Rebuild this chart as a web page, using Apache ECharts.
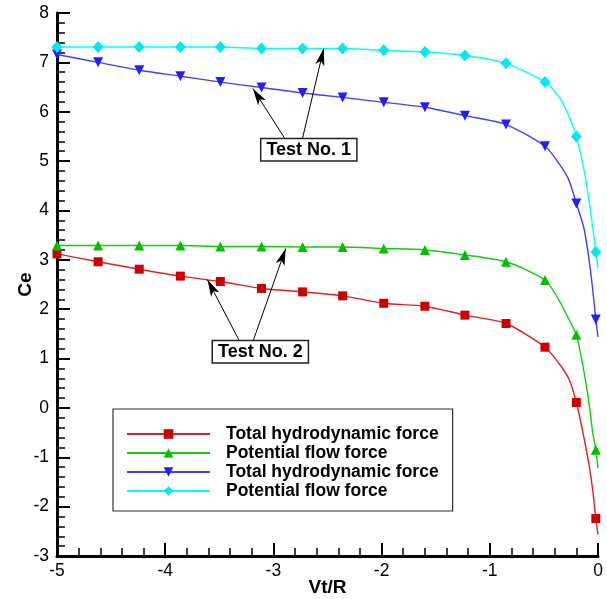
<!DOCTYPE html>
<html>
<head>
<meta charset="utf-8">
<script src="https://cdn.jsdelivr.net/npm/echarts@6.0.0/dist/echarts.min.js"></script>
<style>
  html, body { margin: 0; padding: 0; background: #fff; }
  #chart { width: 607px; height: 599px; }
</style>
</head>
<body>
<div id="chart"></div>
<script>
// marker positions along Vt/R (shared by all curves)
const xVals = [-5, -4.62, -4.24, -3.86, -3.49, -3.11, -2.73, -2.36, -1.98, -1.60, -1.23, -0.85, -0.49, -0.2, -0.02]
// extra curve points (no marker) read off the steep part near Vt/R = 0
const xExtra = [-0.36, -0.27, -0.13, -0.08, -0.05, 0]

// Test No. 2
const totalForce2 = [3.12, 2.96, 2.81, 2.67, 2.56, 2.42, 2.35, 2.27, 2.12, 2.06, 1.88, 1.71, 1.23, 0.11, -2.24]
const totalForce2Extra = [0.90, 0.59, -0.60, -1.19, -1.65, -2.57]
const potentialForce2 = [3.29, 3.29, 3.29, 3.29, 3.27, 3.27, 3.26, 3.26, 3.23, 3.20, 3.10, 2.96, 2.59, 1.48, -0.85]
const potentialForce2Extra = [2.18, 1.80, 0.74, 0.05, -0.48, -1.22]

// Test No. 1
const totalForce1 = [7.16, 7.0, 6.84, 6.72, 6.60, 6.49, 6.38, 6.29, 6.19, 6.09, 5.92, 5.74, 5.30, 4.14, 1.79]
const totalForce1Extra = [4.95, 4.62, 3.64, 2.96, 2.42, 1.44]
const potentialForce1 = [7.31, 7.31, 7.31, 7.31, 7.31, 7.28, 7.28, 7.28, 7.245, 7.21, 7.14, 6.98, 6.60, 5.50, 3.16]
const potentialForce1Extra = [6.30, 5.92, 4.82, 4.16, 3.67, 2.83]

const legendLabels = ['Total hydrodynamic force', 'Potential flow force', 'Total hydrodynamic force', 'Potential flow force']

// annotation arrows: [tail, head] in data space
const test1Arrows = [[[-2.895, 5.46], [-3.19, 6.47]], [[-2.731, 5.46], [-2.535, 7.28]]]
const test2Arrows = [[[-3.31, 1.34], [-3.61, 2.60]], [[-3.19, 1.34], [-2.886, 3.23]]]
const test1Box = [-2.673, 5.23]
const test2Box = [-3.121, 1.138]

const font = 'Liberation Sans, Arial, sans-serif'

const toData = (ys, extra) => {
  const pts = xVals.map((x, i) => ({ value: [x, ys[i]] }))
  xExtra.forEach((x, i) => pts.push({ value: [x, extra[i]], symbol: 'none' }))
  pts.sort((a, b) => a.value[0] - b.value[0])
  return pts
}

const arrowLines = arrows => arrows.map(a => [
  { coord: a[0], symbol: 'none' },
  { coord: a[1], symbol: 'arrow', symbolSize: [7, 17] }
])

const boxPoint = (coord, text) => ({
  coord: coord,
  symbol: 'rect',
  symbolSize: 1,
  itemStyle: { color: 'rgba(0,0,0,0)' },
  label: {
    show: true,
    position: 'inside',
    formatter: text,
    color: '#000',
    fontFamily: font,
    fontWeight: 'bold',
    fontSize: 18,
    backgroundColor: '#fff',
    borderColor: '#222',
    borderWidth: 1.5,
    padding: [2, 5, 1, 5]
  }
})

const makeSeries = (name, ys, extra, color, lineColor, symbol, size, rotate) => ({
  name: name,
  type: 'line',
  data: toData(ys, extra),
  smooth: 0.25,
  symbol: symbol,
  symbolSize: size,
  symbolRotate: rotate || 0,
  showAllSymbol: true,
  lineStyle: { color: lineColor, width: 1.4 },
  itemStyle: { color: color },
  z: 3
})

const series = [
  makeSeries('s0', totalForce2, totalForce2Extra, '#CC0000', '#E02020', 'rect', 9),
  makeSeries('s1', potentialForce2, potentialForce2Extra, '#00C000', '#10CC10', 'triangle', 10),
  makeSeries('s2', totalForce1, totalForce1Extra, '#2020FF', '#4040FF', 'triangle', 10, 180),
  makeSeries('s3', potentialForce1, potentialForce1Extra, '#00E8F0', '#00FFFF', 'diamond', [11, 12])
]

series[0].markLine = {
  silent: true,
  animation: false,
  label: { show: false },
  lineStyle: { color: '#000', width: 1, type: 'solid' },
  data: arrowLines(test1Arrows).concat(arrowLines(test2Arrows))
}
series[0].markPoint = {
  silent: true,
  animation: false,
  data: [boxPoint(test1Box, 'Test No. 1'), boxPoint(test2Box, 'Test No. 2')]
}

const chart = echarts.init(document.getElementById('chart'))

chart.setOption({
  animation: false,
  grid: { left: 57, right: 9, top: 13, bottom: 43, outerBoundsMode: 'none' },
  legend: {
    orient: 'vertical',
    left: 113,
    top: 409,
    width: 343,
    padding: [16, 14, 11, 13],
    borderColor: '#333',
    borderWidth: 1.2,
    itemWidth: 83,
    itemHeight: 12,
    itemGap: 1,
    selectedMode: false,
    data: ['s0', 's1', 's2', 's3'],
    formatter: name => legendLabels[Number(name.slice(1))],
    textStyle: {
      fontFamily: font,
      fontWeight: 'bold',
      fontSize: 17.5,
      lineHeight: 18,
      color: '#000',
      padding: [0, 0, 0, 11]
    }
  },
  xAxis: {
    type: 'value',
    min: -5,
    max: 0,
    interval: 1,
    name: 'Vt/R',
    nameLocation: 'middle',
    nameGap: 22,
    nameMoveOverlap: false,
    nameTextStyle: { fontFamily: font, fontWeight: 'bold', fontSize: 19, color: '#000', verticalAlign: 'top' },
    axisLine: { onZero: false, lineStyle: { color: '#000', width: 3 } },
    axisTick: { inside: true, length: 13, lineStyle: { color: '#000', width: 2 } },
    minorTick: { show: true, splitNumber: 5, length: 8, lineStyle: { color: '#000', width: 1.5 } },
    axisLabel: { fontFamily: font, fontSize: 17.5, color: '#000', margin: 6 },
    splitLine: { show: false }
  },
  yAxis: {
    type: 'value',
    min: -3,
    max: 8,
    interval: 1,
    name: 'Ce',
    nameLocation: 'middle',
    nameGap: 22,
    nameMoveOverlap: false,
    nameRotate: 90,
    nameTextStyle: { fontFamily: font, fontWeight: 'bold', fontSize: 19, color: '#000' },
    axisLine: { show: true, onZero: false, lineStyle: { color: '#000', width: 3 } },
    axisTick: { inside: true, length: 13, lineStyle: { color: '#000', width: 2 } },
    minorTick: { show: true, splitNumber: 5, length: 8, lineStyle: { color: '#000', width: 1.5 } },
    axisLabel: { fontFamily: font, fontSize: 17.5, color: '#000', margin: 8 },
    splitLine: { show: false }
  },
  series: series
})
</script>
</body>
</html>
